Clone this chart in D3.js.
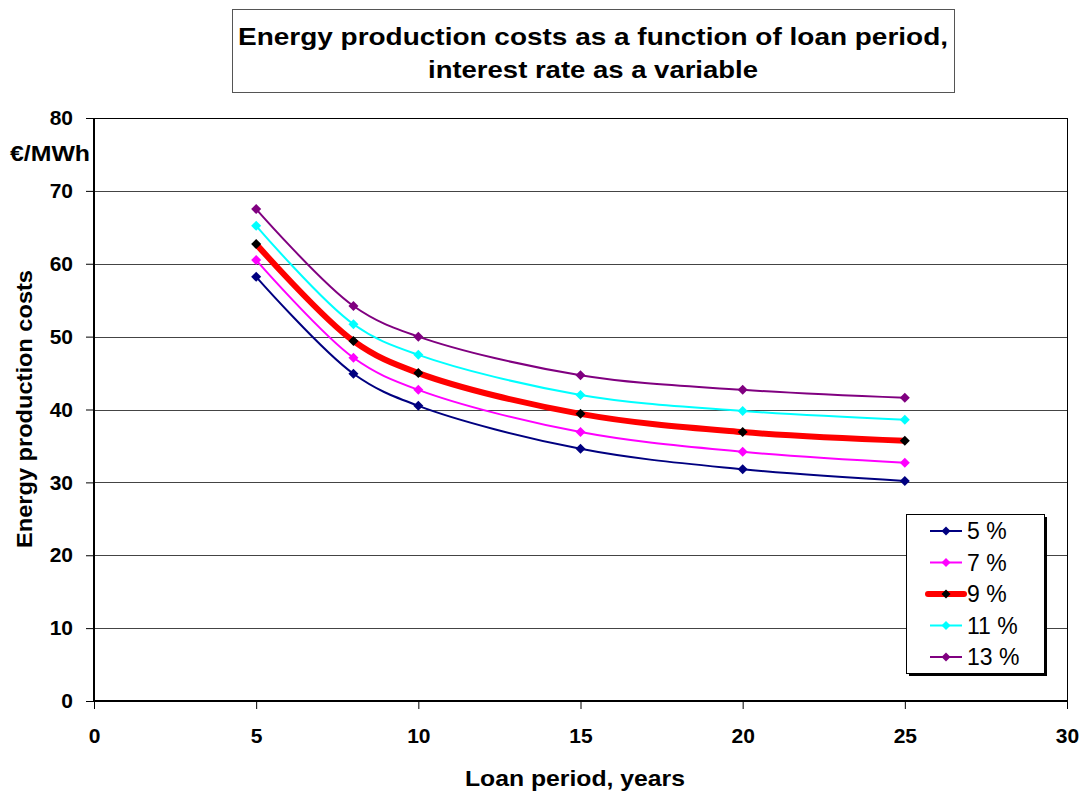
<!DOCTYPE html>
<html>
<head>
<meta charset="utf-8">
<script src="https://cdn.jsdelivr.net/npm/d3@7"></script>
<style>
  body { margin: 0; background: #fff; }
  text { font-family: Arial, "Liberation Sans", sans-serif; }
</style>
</head>
<body>
<svg id="chart" width="1082" height="792"></svg>
<script>
// loan period, years
const years = [5, 8, 10, 15, 20, 25];
const seriesNames = ['5 %', '7 %', '9 %', '11 %', '13 %'];
const rate5 = [58.2, 44.9, 40.5, 34.6, 31.8, 30.2];
const rate7 = [60.5, 47.1, 42.7, 36.9, 34.2, 32.7];
const rate9 = [62.7, 49.4, 45.0, 39.4, 36.9, 35.7];
const rate11 = [65.2, 51.7, 47.5, 42.0, 39.8, 38.6];
const rate13 = [67.5, 54.2, 50.0, 44.7, 42.7, 41.6];
const xTicks = [0, 5, 10, 15, 20, 25, 30];
const yTicks = [0, 10, 20, 30, 40, 50, 60, 70, 80];

const styles = [
    { line: '#000080', marker: '#000080', width: 2 },
    { line: '#ff00ff', marker: '#ff00ff', width: 2 },
    { line: '#ff0000', marker: '#000000', width: 6 },
    { line: '#00ffff', marker: '#00ffff', width: 2 },
    { line: '#800080', marker: '#800080', width: 2 }
];
const allValues = [rate5, rate7, rate9, rate11, rate13];
const series = seriesNames.map((name, i) => ({
    name,
    style: styles[i],
    points: years.map((y, j) => ({ x: y, y: allValues[i][j] }))
}));

const margin = { left: 94, top: 118, right: 1067, bottom: 701 };
const svg = d3.select('#chart');

const x = d3.scaleLinear().domain([0, 30]).range([margin.left, margin.right]);
const y = d3.scaleLinear().domain([0, 80]).range([margin.bottom, margin.top]);

// title box
svg.append('rect')
    .attr('x', 232.5).attr('y', 9.5)
    .attr('width', 722).attr('height', 83)
    .attr('fill', '#fff').attr('stroke', '#555').attr('stroke-width', 1);
svg.append('text')
    .attr('x', 593).attr('y', 45)
    .attr('text-anchor', 'middle')
    .attr('textLength', 710).attr('lengthAdjust', 'spacingAndGlyphs')
    .style('font-size', '24px').style('font-weight', 'bold')
    .text('Energy production costs as a function of loan period,');
svg.append('text')
    .attr('x', 593).attr('y', 78)
    .attr('text-anchor', 'middle')
    .attr('textLength', 330).attr('lengthAdjust', 'spacingAndGlyphs')
    .style('font-size', '24px').style('font-weight', 'bold')
    .text('interest rate as a variable');

// gridlines
svg.append('g')
    .selectAll('line')
    .data(yTicks.filter(d => d > 0))
    .enter().append('line')
    .attr('x1', margin.left).attr('x2', margin.right)
    .attr('y1', d => Math.round(y(d)) + 0.5).attr('y2', d => Math.round(y(d)) + 0.5)
    .attr('stroke', d => d === 80 ? '#000' : '#444')
    .attr('stroke-width', 1);

// right border
svg.append('line')
    .attr('x1', margin.right + 0.5).attr('x2', margin.right + 0.5)
    .attr('y1', margin.top).attr('y2', margin.bottom)
    .attr('stroke', '#000');

// axes
const yAxis = svg.append('g')
    .attr('transform', `translate(${margin.left},0)`)
    .call(d3.axisLeft(y).tickValues(yTicks).tickSize(8).tickPadding(13));
const xAxis = svg.append('g')
    .attr('transform', `translate(0,${margin.bottom})`)
    .call(d3.axisBottom(x).tickValues(xTicks).tickSize(8).tickPadding(19));
[yAxis, xAxis].forEach(a => {
    a.select('.domain').attr('stroke', '#000').attr('stroke-width', 2);
    a.selectAll('.tick line').attr('stroke', '#000');
    a.selectAll('.tick text')
        .style('font-size', '21px').style('font-weight', 'bold')
        .style('font-family', 'Arial, "Liberation Sans", sans-serif')
        .attr('fill', '#000');
});
yAxis.select('.domain').attr('d', `M0,${margin.bottom}V${margin.top}`);
xAxis.select('.domain').attr('d', `M${margin.left},0H${margin.right}`);

// axis titles
svg.append('text')
    .attr('x', 10).attr('y', 161)
    .attr('textLength', 80).attr('lengthAdjust', 'spacingAndGlyphs')
    .style('font-size', '22px').style('font-weight', 'bold')
    .text('€/MWh');
svg.append('text')
    .attr('transform', 'translate(32,548) rotate(-90)')
    .attr('textLength', 278).attr('lengthAdjust', 'spacingAndGlyphs')
    .style('font-size', '22px').style('font-weight', 'bold')
    .text('Energy production costs');
svg.append('text')
    .attr('x', 465).attr('y', 786)
    .attr('textLength', 220).attr('lengthAdjust', 'spacingAndGlyphs')
    .style('font-size', '22px').style('font-weight', 'bold')
    .text('Loan period, years');

// lines
const line = d3.line()
    .x(d => x(d.x))
    .y(d => y(d.y))
    .curve(d3.curveCatmullRom.alpha(0.5));

const diamond = s => `M0,${-s}L${s},0L0,${s}L${-s},0Z`;

const groups = svg.append('g')
    .selectAll('g')
    .data(series)
    .enter().append('g');

groups.append('path')
    .attr('d', d => line(d.points))
    .attr('fill', 'none')
    .attr('stroke', d => d.style.line)
    .attr('stroke-width', d => d.style.width)
    .attr('stroke-linejoin', 'round');

groups.selectAll('.marker')
    .data(d => d.points.map(p => ({ p, style: d.style })))
    .enter().append('path')
    .attr('class', 'marker')
    .attr('transform', d => `translate(${x(d.p.x)},${y(d.p.y)})`)
    .attr('d', diamond(5))
    .attr('fill', d => d.style.marker);

// legend
const lg = svg.append('g').attr('transform', 'translate(906,514)');
lg.append('rect')
    .attr('x', 3).attr('y', 3).attr('width', 138).attr('height', 159)
    .attr('fill', '#000');
lg.append('rect')
    .attr('x', 0.5).attr('y', 0.5).attr('width', 138).attr('height', 159)
    .attr('fill', '#fff').attr('stroke', '#000');

const items = lg.selectAll('.item')
    .data(series)
    .enter().append('g')
    .attr('class', 'item')
    .attr('transform', (d, i) => `translate(0,${17 + i * 31.5})`);
items.append('line')
    .attr('x1', d => d.style.width > 2 ? 22 : 24).attr('x2', d => d.style.width > 2 ? 58 : 56)
    .attr('stroke', d => d.style.line)
    .attr('stroke-width', d => d.style.width)
    .attr('stroke-linecap', d => d.style.width > 2 ? 'round' : 'butt');
items.append('path')
    .attr('transform', 'translate(40,0)')
    .attr('d', diamond(4.5))
    .attr('fill', d => d.style.marker);
items.append('text')
    .attr('x', 61).attr('y', 8)
    .style('font-size', '23px')
    .text(d => d.name);
</script>
</body>
</html>
